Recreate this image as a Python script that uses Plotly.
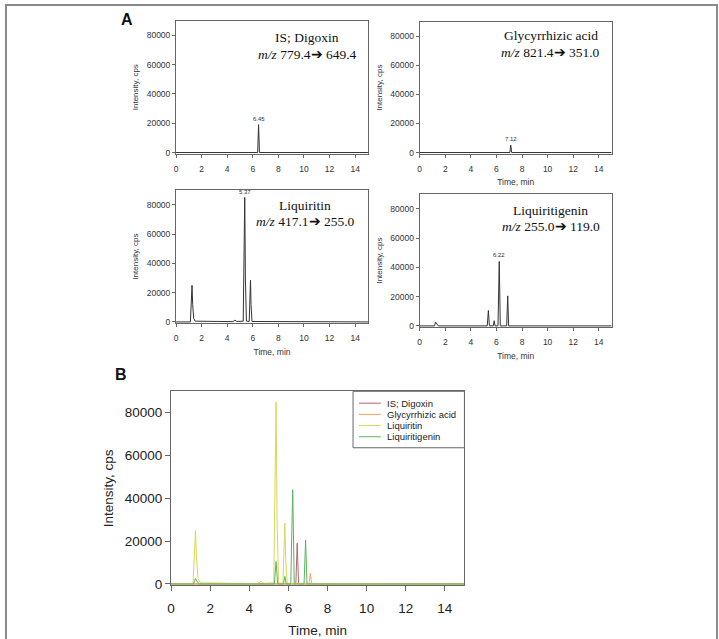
import plotly.graph_objects as go

W, H = 719, 639

# ---- data ----
is_time = [0, 6.38, 6.45, 6.52, 15]
is_int = [0, 0, 19000, 0, 0]

gly_time = [0, 7.05, 7.12, 7.19, 15]
gly_int = [0, 0, 5000, 0, 0]

liq_time = [0, 1.12, 1.2, 1.25, 1.3, 1.38, 1.5, 4.45, 4.6, 4.75, 5.25, 5.32, 5.37, 5.42, 5.5,
            5.72, 5.78, 5.82, 5.86, 5.94, 15]
liq_int = [0, 0, 15000, 25000, 12000, 2500, 500, 200, 1200, 300, 500, 40000, 85000, 30000, 500,
           300, 15000, 28500, 12000, 300, 0]

lqg_time = [0, 1.15, 1.25, 1.35, 1.45, 5.28, 5.37, 5.45, 5.75, 5.82, 5.89, 6.12, 6.22, 6.3,
            6.8, 6.88, 6.95, 15]
lqg_int = [0, 0, 2600, 800, 0, 0, 10500, 0, 0, 3500, 0, 0, 44000, 0, 0, 20500, 0, 0]

names = ["IS; Digoxin", "Glycyrrhizic acid", "Liquiritin", "Liquiritigenin"]
transitions = [["779.4", "649.4"], ["821.4", "351.0"], ["417.1", "255.0"], ["255.0", "119.0"]]
peak_labels = ["6.45", "7.12", "5.37", "6.22"]
peak_pos = [(6.45, 19000), (7.12, 5000), (5.37, 85000), (6.22, 44000)]
colors_b = ["#b56470", "#f2a55a", "#d9d65a", "#5cb360"]

x_ticks = [0, 2, 4, 6, 8, 10, 12, 14]
y_ticks = [0, 20000, 40000, 60000, 80000]

series = [(is_time, is_int), (gly_time, gly_int), (liq_time, liq_int), (lqg_time, lqg_int)]

def px_x(p):
    return p / W

def px_y(p):
    return 1 - p / H

fig = go.Figure()

# panel boxes in pixels: (left, right, top, bottom)
boxes = [(173, 366, 21, 155), (418, 611, 22, 155), (173, 366, 192, 326), (418, 611, 196, 330)]
title_x = [False, True, True, True]
label_centers = [(305, 38, 55), (550, 36, 53), (303, 207, 224), (550, 212, 229)]

layout = dict(width=W, height=H, margin=dict(l=0, r=0, t=0, b=0),
              paper_bgcolor="white", plot_bgcolor="white", showlegend=False)

annotations = []
serif = "Liberation Serif, Times New Roman, serif"
sans = "Liberation Sans, Arial, sans-serif"
for i, (b, (t, v)) in enumerate(zip(boxes, series)):
    k = i + 1
    xa = "x" if k == 1 else f"x{k}"
    ya = "y" if k == 1 else f"y{k}"
    fig.add_trace(go.Scatter(x=t, y=v, mode="lines", line=dict(color="#333333", width=1),
                             xaxis=xa, yaxis=ya, showlegend=False, hoverinfo="skip"))
    axcommon = dict(showline=True, mirror=True, linecolor="#666666", linewidth=1,
                    ticks="outside", ticklen=3, tickcolor="#666666", showgrid=False,
                    zeroline=False, tickfont=dict(family=sans, size=8.5, color="#333"))
    layout["xaxis" if k == 1 else f"xaxis{k}"] = dict(
        domain=[px_x(b[0]), px_x(b[1])], anchor=ya, range=[0, 15], tickvals=x_ticks,
        ticktext=[str(v_) for v_ in x_ticks], ticklabelstandoff=4,
        title=dict(text="Time, min" if title_x[i] else "", standoff=6,
                   font=dict(family=sans, size=8.5, color="#333")),
        **axcommon)
    layout["yaxis" if k == 1 else f"yaxis{k}"] = dict(
        domain=[px_y(b[3]), px_y(b[2])], anchor=xa, range=[-700, 90000], tickvals=y_ticks,
        ticktext=[str(v_) for v_ in y_ticks],
        title=dict(text="Intensity, cps", standoff=6,
                   font=dict(family=sans, size=8, color="#333")),
        **axcommon)
    lc = label_centers[i]
    annotations.append(dict(xref="paper", yref="paper", x=px_x(lc[0]), y=px_y(lc[1]),
                            xanchor="center", yanchor="middle", borderpad=0,
                            text=names[i], showarrow=False,
                            font=dict(family=serif, size=13.5, color="#111")))
    annotations.append(dict(xref="paper", yref="paper", x=px_x(lc[0]), y=px_y(lc[2]),
                            xanchor="center", yanchor="middle", borderpad=0,
                            text=f"<i>m/z</i> {transitions[i][0]}\u2794 {transitions[i][1]}",
                            showarrow=False,
                            font=dict(family=serif, size=13.5, color="#111")))
    annotations.append(dict(xref=xa, yref=ya, x=peak_pos[i][0], y=peak_pos[i][1],
                            text=peak_labels[i], showarrow=False, yanchor="bottom",
                            xanchor="center", yshift=1,
                            font=dict(family=sans, size=6, color="#333")))

# panel B
for j, ((t, v), nm, c) in enumerate(zip(series, names, colors_b)):
    fig.add_trace(go.Scatter(x=t, y=v, mode="lines", name=nm, line=dict(color=c, width=1),
                             xaxis="x5", yaxis="y5", hoverinfo="skip"))

axB = dict(showline=True, mirror=True, linecolor="#666666", linewidth=1, ticks="outside",
           ticklen=5, tickcolor="#666666", showgrid=False, zeroline=False,
           tickfont=dict(family=sans, size=13.5, color="#222"))
layout["xaxis5"] = dict(domain=[px_x(168), px_x(463)], anchor="y5", range=[0, 15], tickvals=x_ticks,
                        ticktext=[str(v_) for v_ in x_ticks], ticklabelstandoff=5,
                        title=dict(text="Time, min", standoff=10,
                                   font=dict(family=sans, size=13.5, color="#222")),
                        **axB)
layout["yaxis5"] = dict(domain=[px_y(591), px_y(395)], anchor="x5", range=[-700, 90000], tickvals=y_ticks,
                        ticktext=[str(v_) for v_ in y_ticks],
                        title=dict(text="Intensity, cps", standoff=8,
                                   font=dict(family=sans, size=13.5, color="#222")),
                        **axB)

shapes = [dict(type="rect", xref="paper", yref="paper", x0=px_x(2), x1=px_x(717),
               y0=px_y(660), y1=px_y(5), line=dict(color="#8a8a8a", width=2))]

# compact legend box for panel B (key drawn as shapes + text)
shapes.append(dict(type="rect", xref="paper", yref="paper", x0=px_x(351), x1=px_x(463),
                   y0=px_y(452), y1=px_y(395), line=dict(color="#666666", width=1),
                   fillcolor="white", layer="above"))
for j, (nm, c) in enumerate(zip(names, colors_b)):
    yy = 407 + j * 11.3
    shapes.append(dict(type="line", xref="paper", yref="paper", x0=px_x(357), x1=px_x(379),
                       y0=px_y(yy), y1=px_y(yy), line=dict(color=c, width=1), layer="above"))
    annotations.append(dict(xref="paper", yref="paper", x=px_x(384), y=px_y(yy), text=nm,
                            showarrow=False, xanchor="left", yanchor="middle", borderpad=0,
                            font=dict(family=sans, size=9.5, color="#222")))

annotations.append(dict(xref="paper", yref="paper", x=px_x(116), y=px_y(20), text="<b>A</b>",
                        showarrow=False, xanchor="left", yanchor="middle",
                        font=dict(family=sans, size=16, color="#111")))
annotations.append(dict(xref="paper", yref="paper", x=px_x(110), y=px_y(378), text="<b>B</b>",
                        showarrow=False, xanchor="left", yanchor="middle",
                        font=dict(family=sans, size=16, color="#111")))
layout["annotations"] = annotations
layout["shapes"] = shapes

fig.update_layout(**layout)
fig.write_html("out.html")
